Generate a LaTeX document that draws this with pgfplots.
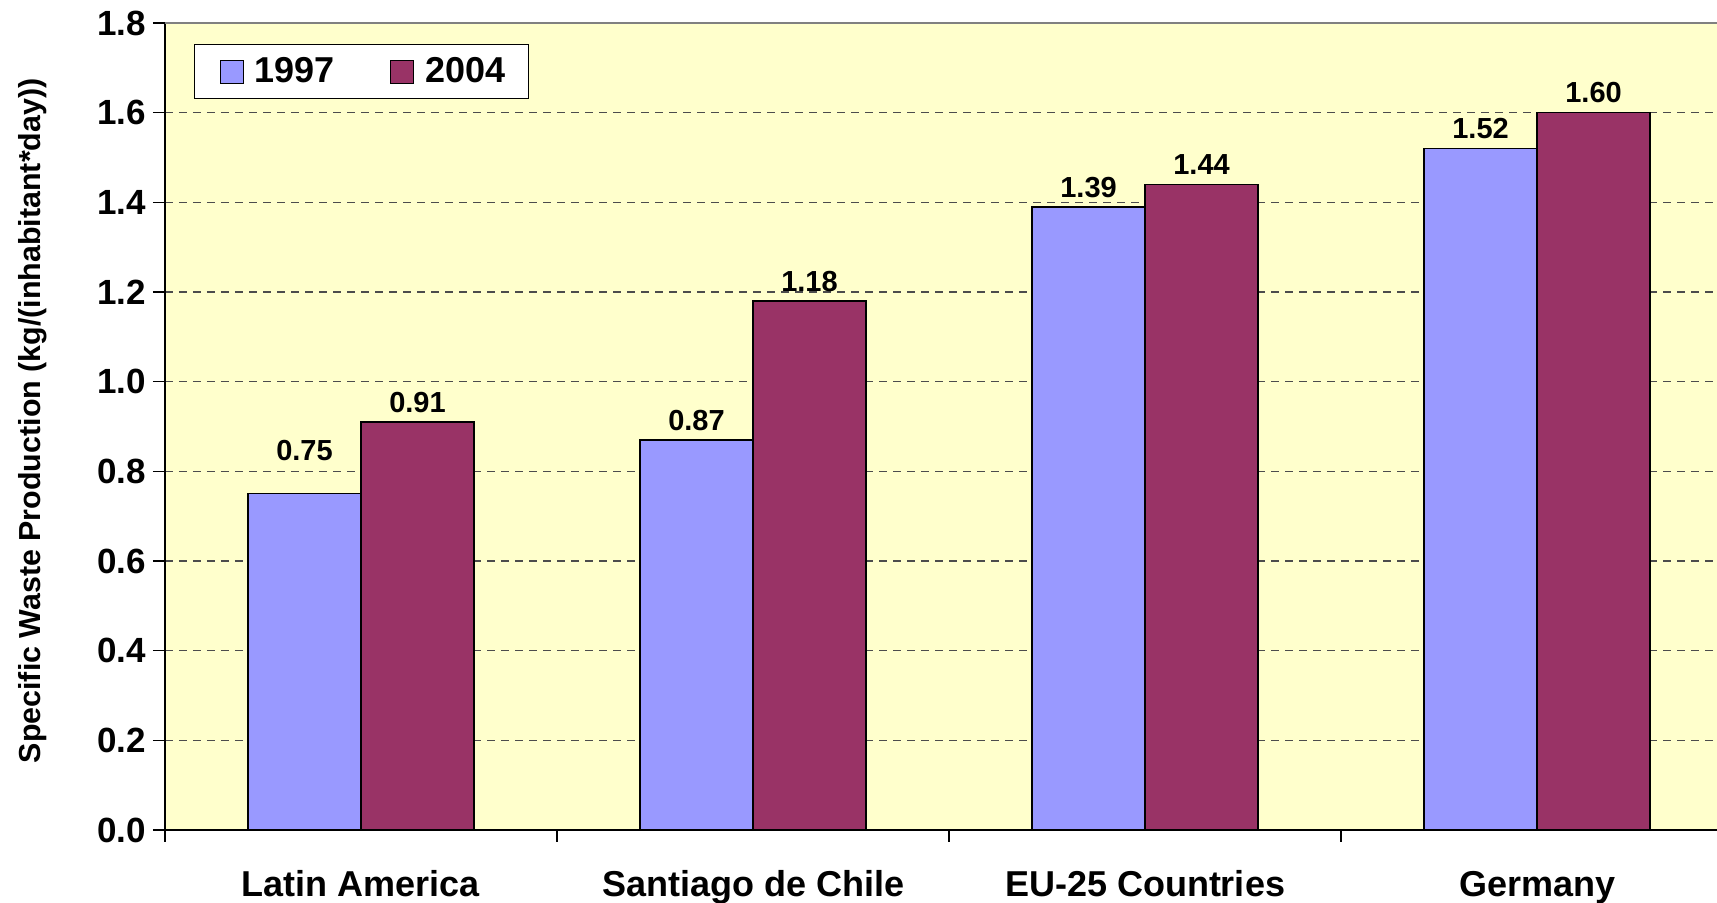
\documentclass[border=0pt]{standalone}
\usepackage{pgfplots}
\usepackage{pgfplotstable}
\pgfplotsset{compat=1.18}
\usepackage{fontspec}
\setmainfont{Liberation Sans}
\definecolor{bgyellow}{HTML}{FFFFCC}
\definecolor{cA}{HTML}{9999FF}
\definecolor{cB}{HTML}{993366}
\pgfplotstableread{
x y
1 0.87
2 1.39
3 1.52
}\tableA
\pgfplotstableread{
x y
0 0.75
}\tableAlow
\pgfplotstableread{
x y
0 0.91
1 1.18
2 1.44
3 1.60
}\tableB
\begin{document}
\begin{tikzpicture}
\begin{axis}[
  scale only axis,
  width=776pt, height=403.5pt,
  xmin=-0.5, xmax=3.459,
  ymin=0, ymax=1.8,
  ybar=0pt, bar width=56.5pt,
  axis x line*=bottom, axis y line*=left,
  axis line style={black, line width=1pt},
  axis background/.style={fill=bgyellow},
  tick align=outside,
  major tick length=6pt,
  tick style={black, line width=0.8pt},
  xtick={-0.5,0.5,1.5,2.5},
  xticklabels={,,,},
  extra x ticks={0,1,2,3},
  extra x tick labels={Latin America,Santiago de Chile,EU-25 Countries,Germany},
  extra x tick style={major tick length=0pt, tick label style={font=\bfseries\fontsize{18}{20}\selectfont, anchor=base, yshift=-33.5pt}},
  ytick={0,0.2,...,1.8},
  yticklabel style={font=\bfseries\fontsize{17.5}{20}\selectfont, /pgf/number format/.cd, fixed, fixed zerofill, precision=1, assume math mode=true},
  ymajorgrids,
  grid style={black!70, line width=0.6pt, dash pattern=on 4pt off 3pt},
  ylabel={Specific Waste Production (kg/(inhabitant*day))},
  ylabel style={font=\bfseries\fontsize{15.2}{18}\selectfont, at={(axis description cs:-0.0851,0.507)}, anchor=center},
  nodes near coords={\pgfmathprintnumber[fixed,fixed zerofill,precision=2,assume math mode=true]{\pgfplotspointmeta}},
  nodes near coords style={font=\bfseries\fontsize{14.5}{16}\selectfont, black, yshift=1pt},
  legend columns=2,
  legend style={at={(axis description cs:0,1)}, anchor=north west, xshift=14.5pt, yshift=-10.5pt,
    draw=black, fill=white, line width=0.6pt, font=\bfseries\fontsize{18}{20}\selectfont,
    inner xsep=9.5pt, inner ysep=4.5pt,
    /tikz/every odd column/.append style={column sep=3.5pt},
    /tikz/every even column/.append style={column sep=22.5pt}},
  legend image code/.code={\path (0pt,0pt); \draw[#1, line width=0.6pt] (3pt,-5.75pt) rectangle (14.5pt,5.75pt);},
  after end axis/.code={\draw[gray, line width=1.2pt] (rel axis cs:0,1) -- (rel axis cs:1,1);},
]
\addplot[fill=cA, draw=black, line width=0.75pt, bar shift=-28.25pt] table[x=x,y=y] {\tableA};
\addplot[fill=cB, draw=black, line width=0.75pt, bar shift=28.25pt] table[x=x,y=y] {\tableB};
\addplot[fill=cA, draw=black, line width=0.75pt, bar shift=-28.25pt, forget plot,
  nodes near coords style={yshift=12pt}] table[x=x,y=y] {\tableAlow};
\legend{1997,2004}
\end{axis}
\pgfresetboundingbox
\path[use as bounding box] (-82.5pt,-36.5pt) rectangle (776pt,415pt);
\end{tikzpicture}
\end{document}
